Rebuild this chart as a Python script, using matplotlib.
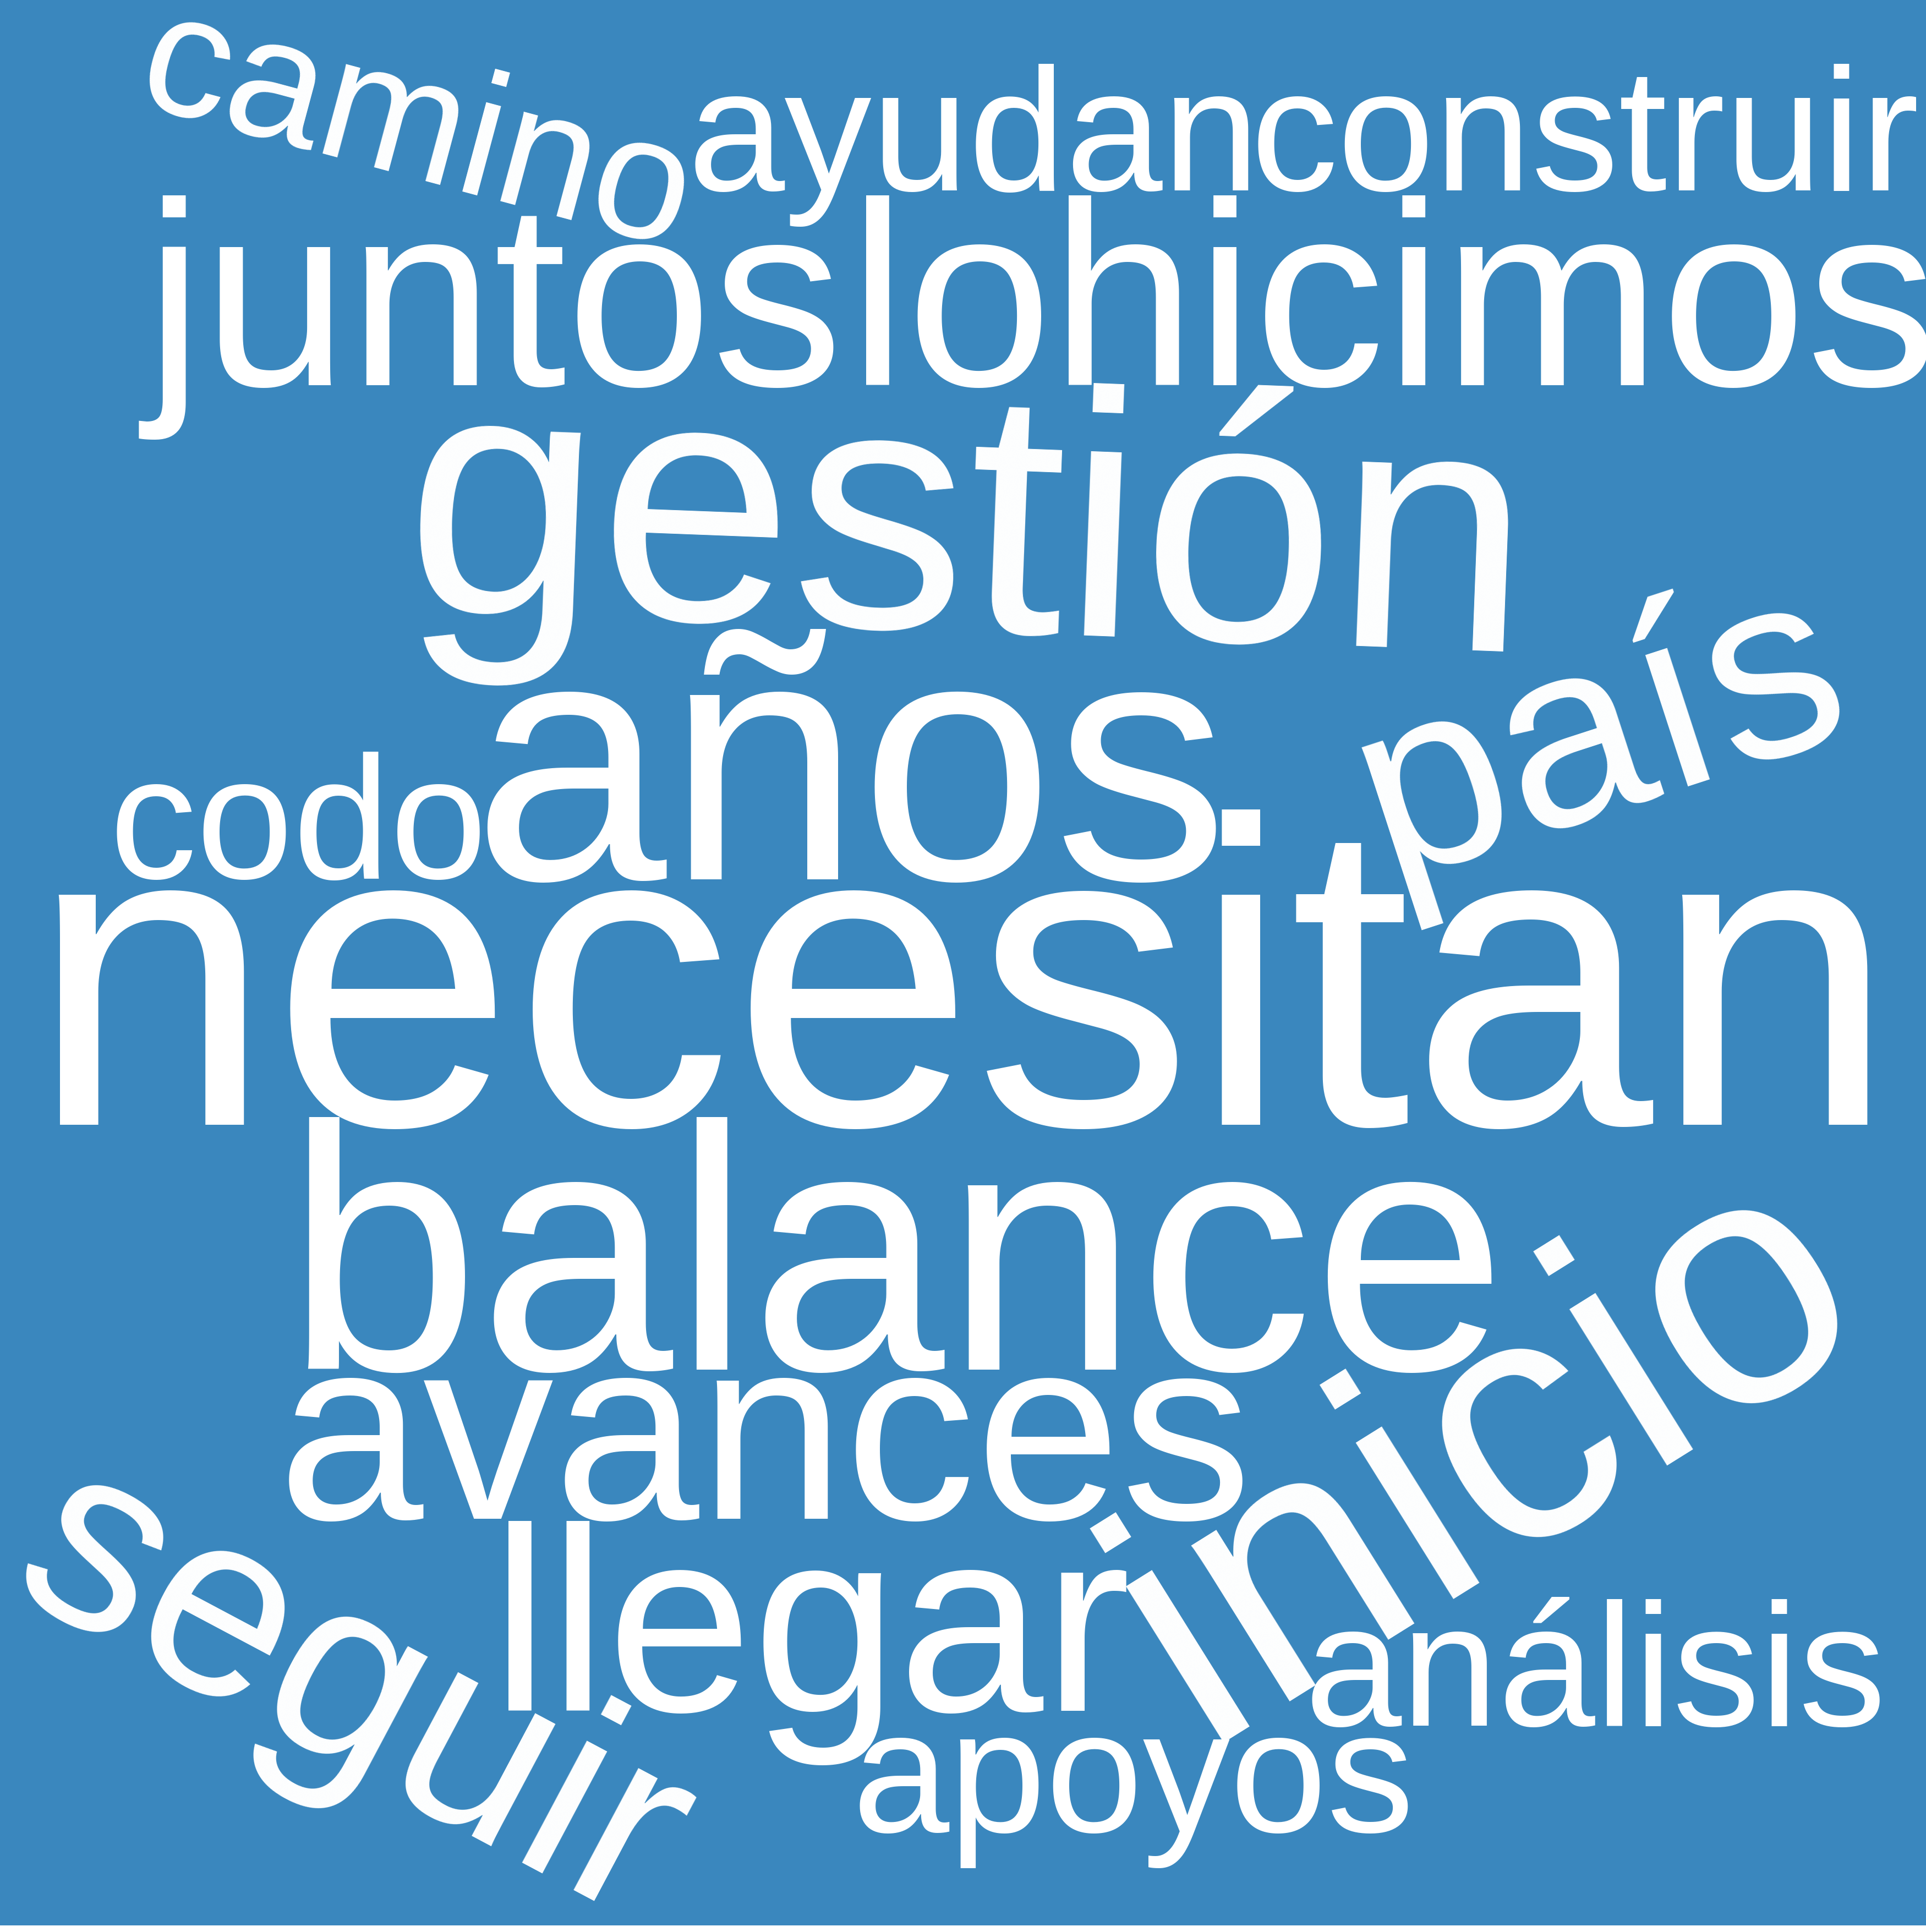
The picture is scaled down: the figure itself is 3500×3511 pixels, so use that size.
import matplotlib
matplotlib.use("Agg")
import matplotlib.pyplot as plt

# words of the cloud and how often they appear
words = ["necesitan", "gestión", "años", "balance", "inicio",
         "juntos", "lo", "hicimos", "país", "avances", "llegar", "seguir",
         "camino", "ayudan", "construir", "codo", "análisis", "apoyos"]
freq = [5, 4, 4, 4, 4,
        3, 3, 3, 3, 3, 3, 3,
        2, 2, 2, 2, 2, 2]

# layout: centre of each word's baseline (pixels from top-left) and angle
pos_x = [1749, 1752, 1545, 1628, 2794,
         898, 1727, 2715, 2948, 1390, 1473, 581,
         735, 1769, 2880, 542, 2899, 2059]
pos_y = [2044, 1147, 1598, 2489, 2784,
         700, 700, 700, 1458, 2760, 3109, 3196,
         322, 346, 346, 1596, 3136, 3329]
angle = [0, -2.2, 0, 0, 32,
         0, 0, 0, 18, 0, 0, -28,
         -15, 0, 0, 0, 0, 0]

bg = "#3a87be"
pt_per_freq = 114.1

fig = plt.figure(figsize=(35, 35.12), dpi=100, facecolor="white")
ax = fig.add_axes([0, 12 / 3512, 1, 3500 / 3512])
ax.set_facecolor(bg)
ax.set_xlim(0, 3500)
ax.set_ylim(3500, 0)
ax.set_xticks([])
ax.set_yticks([])
for s in ax.spines.values():
    s.set_visible(False)

for w, f, x, y, a in zip(words, freq, pos_x, pos_y, angle):
    ax.text(x, y, w, fontsize=f * pt_per_freq, family="Liberation Sans",
            color="white", ha="center", va="baseline",
            rotation=a, rotation_mode="anchor")

fig.savefig("out.png", dpi=100, facecolor="white")
